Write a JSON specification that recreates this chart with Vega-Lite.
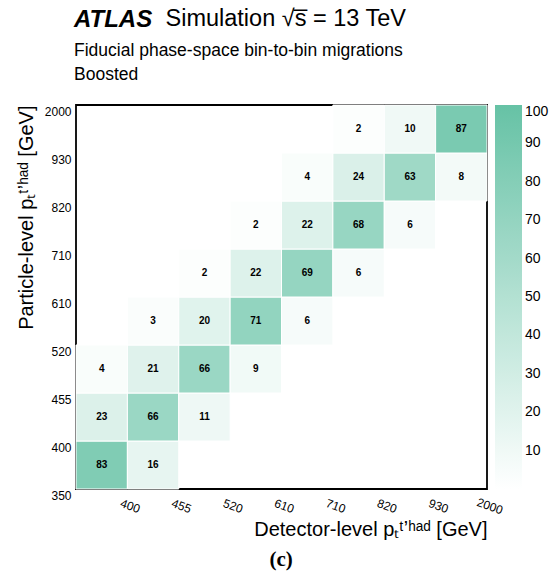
{
  "$schema": "https://vega.github.io/schema/vega-lite/v6.json",
  "padding": {"left": 15, "top": 5, "right": 0, "bottom": 2},
  "background": "white",
  "config": {
    "font": "Liberation Sans",
    "view": {"stroke": "black", "strokeWidth": 1.8},
    "axis": {"grid": false, "domain": false, "ticks": false, "labelColor": "black", "titleColor": "black", "titleFontWeight": "normal", "labelFont": "Liberation Sans", "titleFont": "Liberation Sans"},
    "legend": {"labelColor": "black", "labelFont": "Liberation Sans"},
    "title": {"color": "black", "subtitleColor": "black"}
  },
  "title": {"text": "(c)", "orient": "bottom", "font": "Liberation Serif", "fontSize": 21, "fontWeight": "bold", "anchor": "middle", "offset": 8, "dx": -1},
  "vconcat": [
    {
      "width": 411,
      "height": 384,
      "title": {
        "text": "ATLAS",
        "subtitle": ["Fiducial phase-space bin-to-bin migrations", "Boosted"],
        "anchor": "start",
        "frame": "group",
        "font": "Liberation Sans",
        "fontSize": 24,
        "fontStyle": "italic",
        "fontWeight": "bold",
        "subtitleFont": "Liberation Sans",
        "subtitleFontSize": 17.5,
        "subtitlePadding": 10,
        "subtitleLineHeight": 24.5,
        "offset": -77,
        "dx": -2
      },
      "data": {
        "values": [
          {"det_lo": 350, "det_hi": 400, "part_lo": 350, "part_hi": 400, "value": 83},
          {"det_lo": 400, "det_hi": 455, "part_lo": 350, "part_hi": 400, "value": 16},
          {"det_lo": 350, "det_hi": 400, "part_lo": 400, "part_hi": 455, "value": 23},
          {"det_lo": 400, "det_hi": 455, "part_lo": 400, "part_hi": 455, "value": 66},
          {"det_lo": 455, "det_hi": 520, "part_lo": 400, "part_hi": 455, "value": 11},
          {"det_lo": 350, "det_hi": 400, "part_lo": 455, "part_hi": 520, "value": 4},
          {"det_lo": 400, "det_hi": 455, "part_lo": 455, "part_hi": 520, "value": 21},
          {"det_lo": 455, "det_hi": 520, "part_lo": 455, "part_hi": 520, "value": 66},
          {"det_lo": 520, "det_hi": 610, "part_lo": 455, "part_hi": 520, "value": 9},
          {"det_lo": 400, "det_hi": 455, "part_lo": 520, "part_hi": 610, "value": 3},
          {"det_lo": 455, "det_hi": 520, "part_lo": 520, "part_hi": 610, "value": 20},
          {"det_lo": 520, "det_hi": 610, "part_lo": 520, "part_hi": 610, "value": 71},
          {"det_lo": 610, "det_hi": 710, "part_lo": 520, "part_hi": 610, "value": 6},
          {"det_lo": 455, "det_hi": 520, "part_lo": 610, "part_hi": 710, "value": 2},
          {"det_lo": 520, "det_hi": 610, "part_lo": 610, "part_hi": 710, "value": 22},
          {"det_lo": 610, "det_hi": 710, "part_lo": 610, "part_hi": 710, "value": 69},
          {"det_lo": 710, "det_hi": 820, "part_lo": 610, "part_hi": 710, "value": 6},
          {"det_lo": 520, "det_hi": 610, "part_lo": 710, "part_hi": 820, "value": 2},
          {"det_lo": 610, "det_hi": 710, "part_lo": 710, "part_hi": 820, "value": 22},
          {"det_lo": 710, "det_hi": 820, "part_lo": 710, "part_hi": 820, "value": 68},
          {"det_lo": 820, "det_hi": 930, "part_lo": 710, "part_hi": 820, "value": 6},
          {"det_lo": 610, "det_hi": 710, "part_lo": 820, "part_hi": 930, "value": 4},
          {"det_lo": 710, "det_hi": 820, "part_lo": 820, "part_hi": 930, "value": 24},
          {"det_lo": 820, "det_hi": 930, "part_lo": 820, "part_hi": 930, "value": 63},
          {"det_lo": 930, "det_hi": 2000, "part_lo": 820, "part_hi": 930, "value": 8},
          {"det_lo": 710, "det_hi": 820, "part_lo": 930, "part_hi": 2000, "value": 2},
          {"det_lo": 820, "det_hi": 930, "part_lo": 930, "part_hi": 2000, "value": 10},
          {"det_lo": 930, "det_hi": 2000, "part_lo": 930, "part_hi": 2000, "value": 87}
        ]
      },
      "resolve": {"scale": {"x": "independent", "y": "independent"}},
      "layer": [
        {
          "mark": {"type": "rect", "stroke": "white", "strokeWidth": 1},
          "encoding": {
            "x": {
              "field": "det_lo",
              "type": "quantitative",
              "scale": {"domain": [350, 400, 455, 520, 610, 710, 820, 930, 2000], "range": [0, 51.375, 102.75, 154.125, 205.5, 256.875, 308.25, 359.625, 411]},
              "axis": {
                "orient": "bottom",
                "values": [400, 455, 520, 610, 710, 820, 930, 2000],
                "format": "d",
                "labelAngle": 20,
                "labelAlign": "center",
                "labelBaseline": "top",
                "labelPadding": 12,
                "labelOffset": 4,
                "labelFontSize": 12,
                "labelFlush": false,
                "labelOverlap": false,
                "title": "Detector-level p\u209c\u1d57\u02bc\u02b0\u1d43\u1d48 [GeV]",
                "titleFontSize": 20,
                "titleAnchor": "end",
                "titlePadding": 4
              }
            },
            "x2": {"field": "det_hi"},
            "y": {
              "field": "part_lo",
              "type": "quantitative",
              "scale": {"domain": [350, 400, 455, 520, 610, 710, 820, 930, 2000], "range": [384, 336, 288, 240, 192, 144, 96, 48, 0]},
              "axis": {
                "orient": "left",
                "values": [350, 400, 455, 520, 610, 710, 820, 930, 2000],
                "format": "d",
                "labelBaseline": "top",
                "labelOffset": 1,
                "labelPadding": 5,
                "labelFontSize": 12,
                "labelFlush": false,
                "labelOverlap": false,
                "title": "Particle-level p\u209c\u1d57\u02bc\u02b0\u1d43\u1d48 [GeV]",
                "titleFontSize": 20,
                "titleAnchor": "end",
                "titlePadding": 8
              }
            },
            "y2": {"field": "part_hi"},
            "color": {
              "field": "value",
              "type": "quantitative",
              "scale": {"domain": [0, 100], "range": ["#ffffff", "#66c2a5"], "interpolate": "rgb"},
              "legend": {
                "title": null,
                "orient": "right",
                "direction": "vertical",
                "gradientLength": 384,
                "gradientThickness": 27,
                "offset": -10,
                "padding": 0,
                "values": [10, 20, 30, 40, 50, 60, 70, 80, 90, 100],
                "labelFontSize": 14,
                "labelOffset": 3,
                "labelOverlap": false,
                "gradientStrokeWidth": 0
              }
            }
          }
        },
        {
          "mark": {"type": "text", "fontWeight": "bold", "fontSize": 10, "color": "black", "font": "Liberation Sans"},
          "encoding": {
            "x": {
              "field": "det_lo",
              "type": "ordinal",
              "scale": {"domain": [350, 400, 455, 520, 610, 710, 820, 930], "paddingInner": 0, "paddingOuter": 0},
              "axis": {
                "orient": "top",
                "labels": false,
                "ticks": false,
                "domain": false,
                "title": "Simulation \u221as\u0305 = 13 TeV",
                "titleFontSize": 23.5,
                "titleAnchor": "start",
                "titleAlign": "left",
                "titleBaseline": "alphabetic",
                "titleX": 89,
                "titleY": -79.5
              }
            },
            "y": {
              "field": "part_lo",
              "type": "ordinal",
              "scale": {"domain": [930, 820, 710, 610, 520, 455, 400, 350], "paddingInner": 0, "paddingOuter": 0},
              "axis": null
            },
            "text": {"field": "value", "type": "quantitative"}
          }
        }
      ]
    }
  ]
}
